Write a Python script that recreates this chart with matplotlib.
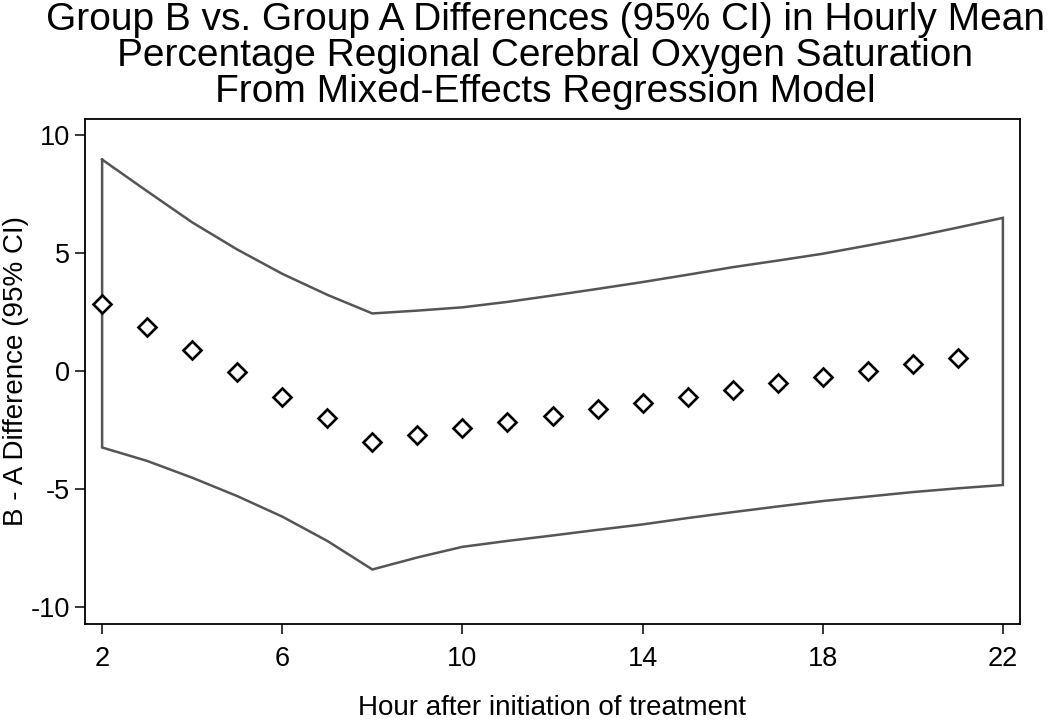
import matplotlib
matplotlib.use("Agg")
import matplotlib.pyplot as plt

hours = list(range(2, 22))
diff = [2.85, 1.86, 0.90, -0.06, -1.08, -2.01, -3.00, -2.72, -2.43, -2.18,
        -1.90, -1.62, -1.35, -1.08, -0.79, -0.52, -0.27, 0.02, 0.31, 0.57]

ci_hours = list(range(2, 23))
ci_upper = [8.96, 7.62, 6.30, 5.15, 4.12, 3.23, 2.44, 2.56, 2.70, 2.93, 3.20,
            3.48, 3.77, 4.08, 4.40, 4.68, 4.97, 5.32, 5.68, 6.08, 6.49]
ci_lower = [-3.24, -3.81, -4.52, -5.30, -6.17, -7.20, -8.41, -7.90, -7.45, -7.20,
            -6.97, -6.73, -6.50, -6.23, -5.98, -5.74, -5.51, -5.32, -5.13, -4.97, -4.83]

title_lines = ["Group B vs. Group A Differences (95% CI) in Hourly Mean",
               "Percentage Regional Cerebral Oxygen Saturation",
               "From Mixed-Effects Regression Model"]
xticks = [2, 6, 10, 14, 18, 22]
yticks = [-10, -5, 0, 5, 10]
xlabel = "Hour after initiation of treatment"
ylabel = "B - A Difference (95% CI)"

plt.rcParams['font.family'] = ['Liberation Sans', 'DejaVu Sans']
plt.rcParams['axes.unicode_minus'] = False

fig = plt.figure(figsize=(10.5, 7.22), dpi=100)
ax = fig.add_axes([85/1050, 1 - 624/722, (1020 - 85)/1050, (624 - 119)/722])

# closed CI outline
px = ci_hours + ci_hours[::-1] + [ci_hours[0]]
py = ci_upper + ci_lower[::-1] + [ci_upper[0]]
ax.plot(px, py, color='#555555', lw=1.8, solid_joinstyle='miter', zorder=2)

ax.plot(hours, diff, linestyle='none', marker='D', markersize=9.2,
        markerfacecolor='white', markeredgecolor='black', markeredgewidth=1.9, zorder=3)

ax.set_xlim(1.62, 22.38)
ax.set_ylim(-10.72, 10.68)
ax.set_xticks(xticks)
ax.set_yticks(yticks)
ax.tick_params(axis='both', labelsize=19.5, length=7, width=1.1, color='black')
ax.tick_params(axis='x', pad=9)
ax.tick_params(axis='y', pad=4)
for s in ax.spines.values():
    s.set_linewidth(1.3)
    s.set_color('black')

ax.set_xlabel(xlabel, fontsize=20)
ax.set_ylabel(ylabel, fontsize=20)
ax.xaxis.set_label_coords(0.5, -0.140)
ax.yaxis.set_label_coords(-0.060, 0.5)

baselines = [30, 66, 102]
for line, b in zip(title_lines, baselines):
    fig.text(545/1050, 1 - b/722, line, ha='center', va='baseline', fontsize=28)

fig.savefig("out.png", dpi=100, facecolor='white')
